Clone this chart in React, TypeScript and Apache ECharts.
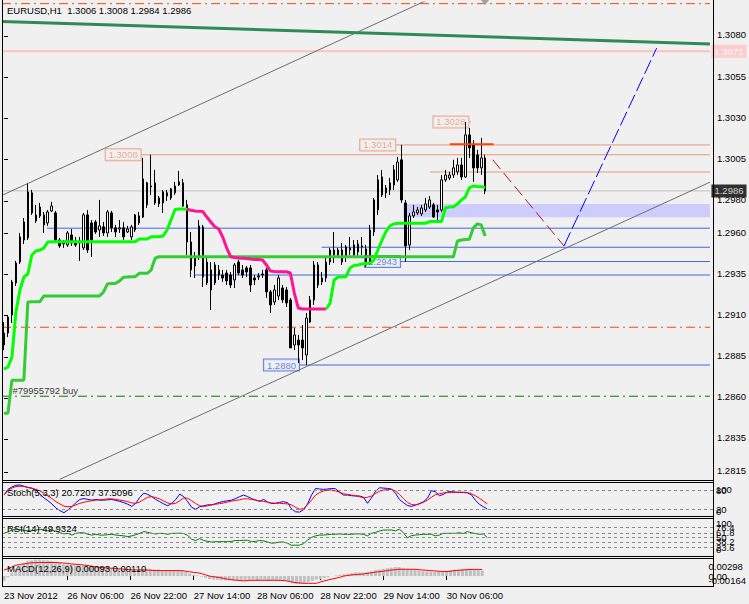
import React, { useEffect, useRef } from 'react';
import * as echarts from 'echarts';

const FONT = '"Liberation Sans", Arial, sans-serif';
const FS = 9.5;

const slotCount = 178;
const labelStep = 16;
const timeLabels = ['23 Nov 2012', '26 Nov 06:00', '26 Nov 22:00', '27 Nov 14:00', '28 Nov 06:00', '28 Nov 22:00', '29 Nov 14:00', '30 Nov 06:00'];
const priceTicks = [1.3080, 1.3055, 1.3030, 1.3005, 1.2980, 1.2960, 1.2935, 1.2910, 1.2885, 1.2860, 1.2835, 1.2815];
const stochRange = [0, 100];
const stochLevels = [20, 80];
const stochTickValues = [100, 80, 20, 0];
const rsiRange = [0, 100];
const rsiLevels = [23.6, 38.2, 50, 61.8, 76.4];
const rsiTickValues = [100, 76.4, 61.8, 50, 38.2, 23.6, 0];
const macdRange = [-0.00164, 0.00298];
const macdTickValues = [0.00298, 0, -0.00164];

const chartTitle = 'EURUSD,H1  1.3006 1.3008 1.2984 1.2986';
const stochTitle = 'Stoch(5,3,3) 20.7207 37.5096';
const rsiTitle = 'RSI(14) 49.9324';
const macdTitle = 'MACD(12,26,9) 0.00093 0.00110';

// [open, close, low, high]
const candles = [
  [1.28922, 1.28995, 1.28891, 1.29062], [1.28995, 1.29092, 1.28971, 1.29105], [1.29105, 1.29306, 1.29056, 1.29318],
  [1.29300, 1.29421, 1.29281, 1.29434], [1.29427, 1.29580, 1.29415, 1.29604], [1.29561, 1.29671, 1.29537, 1.29695],
  [1.29574, 1.29854, 1.29561, 1.29909], [1.29848, 1.29726, 1.29714, 1.29866], [1.29714, 1.29677, 1.29665, 1.29775],
  [1.29708, 1.29762, 1.29695, 1.29787], [1.29714, 1.29653, 1.29604, 1.29732], [1.29665, 1.29732, 1.29647, 1.29744],
  [1.29738, 1.29768, 1.29732, 1.29793], [1.29726, 1.29561, 1.29543, 1.29738], [1.29561, 1.29525, 1.29513, 1.29574],
  [1.29537, 1.29543, 1.29513, 1.29561], [1.29531, 1.29604, 1.29519, 1.29616], [1.29592, 1.29543, 1.29525, 1.29628],
  [1.29555, 1.29531, 1.29519, 1.29580], [1.29543, 1.29555, 1.29434, 1.29580], [1.29513, 1.29714, 1.29500, 1.29726],
  [1.29714, 1.29500, 1.29482, 1.29744], [1.29665, 1.29561, 1.29458, 1.29683], [1.29671, 1.29610, 1.29598, 1.29683],
  [1.29622, 1.29647, 1.29580, 1.29805], [1.29641, 1.29604, 1.29586, 1.29671], [1.29604, 1.29732, 1.29580, 1.29744],
  [1.29726, 1.29635, 1.29610, 1.29738], [1.29635, 1.29610, 1.29580, 1.29653], [1.29628, 1.29635, 1.29604, 1.29683],
  [1.29635, 1.29580, 1.29561, 1.29671], [1.29610, 1.29628, 1.29604, 1.29647], [1.29580, 1.29641, 1.29561, 1.29653],
  [1.29622, 1.29714, 1.29610, 1.29720], [1.29665, 1.29708, 1.29653, 1.29732], [1.29701, 1.29933, 1.29695, 1.30061],
  [1.29909, 1.29775, 1.29756, 1.29915], [1.29890, 1.29884, 1.29835, 1.30080], [1.29909, 1.29787, 1.29775, 1.29988],
  [1.29781, 1.29817, 1.29762, 1.29829], [1.29787, 1.29854, 1.29726, 1.29866], [1.29848, 1.29829, 1.29799, 1.29866],
  [1.29817, 1.29872, 1.29805, 1.29878], [1.29848, 1.29890, 1.29835, 1.29915], [1.29896, 1.29915, 1.29890, 1.29982],
  [1.29909, 1.29768, 1.29762, 1.29933], [1.29775, 1.29549, 1.29470, 1.29805], [1.29549, 1.29379, 1.29336, 1.29610],
  [1.29452, 1.29403, 1.29330, 1.29488], [1.29458, 1.29647, 1.29440, 1.29683], [1.29641, 1.29336, 1.29275, 1.29653],
  [1.29427, 1.29300, 1.29287, 1.29464], [1.29379, 1.29257, 1.29135, 1.29427], [1.29300, 1.29409, 1.29287, 1.29427],
  [1.29379, 1.29348, 1.29318, 1.29409], [1.29348, 1.29330, 1.29306, 1.29379], [1.29360, 1.29312, 1.29287, 1.29379],
  [1.29348, 1.29287, 1.29269, 1.29366], [1.29318, 1.29409, 1.29269, 1.29421], [1.29427, 1.29360, 1.29348, 1.29440],
  [1.29379, 1.29348, 1.29330, 1.29409], [1.29391, 1.29366, 1.29336, 1.29403], [1.29391, 1.29287, 1.29245, 1.29409],
  [1.29330, 1.29318, 1.29287, 1.29348], [1.29342, 1.29336, 1.29318, 1.29360], [1.29354, 1.29348, 1.29330, 1.29379],
  [1.29379, 1.29245, 1.29208, 1.29391], [1.29245, 1.29166, 1.29117, 1.29257], [1.29184, 1.29257, 1.29166, 1.29287],
  [1.29220, 1.29330, 1.29196, 1.29348], [1.29269, 1.29196, 1.29178, 1.29287], [1.29257, 1.29178, 1.29153, 1.29275],
  [1.29196, 1.28904, 1.28904, 1.29208], [1.28922, 1.28983, 1.28891, 1.29025], [1.28952, 1.28922, 1.28812, 1.28983],
  [1.28952, 1.28904, 1.28830, 1.29044], [1.28861, 1.29086, 1.28800, 1.29117], [1.29062, 1.29196, 1.29056, 1.29220],
  [1.29196, 1.29409, 1.29166, 1.29434], [1.29409, 1.29287, 1.29269, 1.29427], [1.29330, 1.29306, 1.29287, 1.29366],
  [1.29330, 1.29427, 1.29306, 1.29452], [1.29427, 1.29500, 1.29409, 1.29513], [1.29470, 1.29500, 1.29421, 1.29610],
  [1.29500, 1.29470, 1.29452, 1.29513], [1.29500, 1.29427, 1.29409, 1.29543], [1.29458, 1.29519, 1.29427, 1.29531],
  [1.29513, 1.29500, 1.29470, 1.29580], [1.29531, 1.29470, 1.29452, 1.29561], [1.29488, 1.29537, 1.29464, 1.29561],
  [1.29519, 1.29525, 1.29470, 1.29580], [1.29507, 1.29409, 1.29397, 1.29531], [1.29427, 1.29622, 1.29409, 1.29653],
  [1.29610, 1.29805, 1.29586, 1.29817], [1.29744, 1.29927, 1.29714, 1.29957], [1.29835, 1.29945, 1.29823, 1.29988],
  [1.29878, 1.29848, 1.29817, 1.29896], [1.29866, 1.29909, 1.29835, 1.29939], [1.29896, 1.29988, 1.29866, 1.30018],
  [1.29927, 1.30036, 1.29915, 1.30067], [1.30049, 1.29805, 1.29787, 1.30140], [1.29787, 1.29525, 1.29430, 1.29805],
  [1.29531, 1.29708, 1.29500, 1.29726], [1.29708, 1.29732, 1.29695, 1.29775], [1.29726, 1.29744, 1.29714, 1.29762],
  [1.29720, 1.29756, 1.29708, 1.29775], [1.29744, 1.29781, 1.29732, 1.29817], [1.29762, 1.29805, 1.29750, 1.29829],
  [1.29775, 1.29701, 1.29695, 1.29787], [1.29744, 1.29732, 1.29683, 1.29775], [1.29744, 1.29927, 1.29732, 1.29957],
  [1.29927, 1.29957, 1.29915, 1.29988], [1.29939, 1.29957, 1.29927, 1.29976], [1.29957, 1.30000, 1.29939, 1.30049],
  [1.29976, 1.30018, 1.29957, 1.30061], [1.30018, 1.29945, 1.29927, 1.30061], [1.29945, 1.30201, 1.29939, 1.30280],
  [1.30201, 1.30122, 1.30061, 1.30243], [1.30140, 1.30000, 1.29915, 1.30170], [1.30079, 1.30000, 1.29969, 1.30110],
  [1.30000, 1.30061, 1.29957, 1.30183], [1.30060, 1.29860, 1.29840, 1.30080],
];

// fast trailing stop (lime while rising, pink while falling)
const trailFast = [
  1.28775, 1.28788, 1.28849, 1.29123, 1.29257, 1.29336, 1.29354, 1.29470, 1.29494, 1.29500,
  1.29512, 1.29549, 1.29551, 1.29551, 1.29551, 1.29551, 1.29551, 1.29551, 1.29551, 1.29551,
  1.29551, 1.29551, 1.29551, 1.29551, 1.29551, 1.29551, 1.29551, 1.29551, 1.29551, 1.29551,
  1.29551, 1.29551, 1.29551, 1.29551, 1.29567, 1.29567, 1.29567, 1.29581, 1.29581, 1.29581,
  1.29586, 1.29622, 1.29683, 1.29747, 1.29750, 1.29750, 1.29748, 1.29742, 1.29738, 1.29736,
  1.29734, 1.29701, 1.29671, 1.29642, 1.29628, 1.29579, 1.29512, 1.29459, 1.29455, 1.29452,
  1.29450, 1.29448, 1.29445, 1.29443, 1.29442, 1.29439, 1.29409, 1.29372, 1.29369, 1.29368,
  1.29368, 1.29368, 1.29360, 1.29238, 1.29147, 1.29141, 1.29141, 1.29141, 1.29141, 1.29141,
  1.29141, 1.29141, 1.29177, 1.29318, 1.29336, 1.29336, 1.29338, 1.29391, 1.29406, 1.29409,
  1.29415, 1.29418, 1.29419, 1.29439, 1.29500, 1.29558, 1.29610, 1.29646, 1.29659, 1.29663,
  1.29663, 1.29663, 1.29663, 1.29663, 1.29663, 1.29663, 1.29663, 1.29673, 1.29673, 1.29673,
  1.29673, 1.29756, 1.29762, 1.29764, 1.29780, 1.29805, 1.29823, 1.29878, 1.29890, 1.29887,
  1.29886, 1.29881,
];
const trailFastSegments = [
  { from: 0, to: 46, rising: true },
  { from: 46, to: 81, rising: false },
  { from: 81, to: 121, rising: true },
];

// slow trailing stop
const trailSlow = [
  1.28506, 1.28507, 1.28708, 1.28708, 1.28708, 1.28708, 1.29184, 1.29185, 1.29185, 1.29185,
  1.29220, 1.29220, 1.29220, 1.29220, 1.29220, 1.29220, 1.29220, 1.29220, 1.29220, 1.29220,
  1.29220, 1.29220, 1.29220, 1.29220, 1.29220, 1.29244, 1.29293, 1.29297, 1.29297, 1.29311,
  1.29334, 1.29336, 1.29338, 1.29338, 1.29358, 1.29358, 1.29358, 1.29378, 1.29450, 1.29459,
  1.29459, 1.29459, 1.29459, 1.29459, 1.29459, 1.29459, 1.29459, 1.29459, 1.29459, 1.29459,
  1.29459, 1.29459, 1.29459, 1.29459, 1.29459, 1.29459, 1.29459, 1.29459, 1.29459, 1.29459,
  1.29459, 1.29459, 1.29459, 1.29459, 1.29459, 1.29459, 1.29459, 1.29459, 1.29459, 1.29459,
  1.29459, 1.29459, 1.29459, 1.29459, 1.29459, 1.29459, 1.29459, 1.29459, 1.29459, 1.29459,
  1.29459, 1.29459, 1.29459, 1.29459, 1.29459, 1.29459, 1.29459, 1.29459, 1.29459, 1.29459,
  1.29459, 1.29459, 1.29459, 1.29459, 1.29459, 1.29459, 1.29459, 1.29459, 1.29459, 1.29459,
  1.29459, 1.29459, 1.29459, 1.29459, 1.29459, 1.29459, 1.29459, 1.29459, 1.29459, 1.29459,
  1.29459, 1.29459, 1.29459, 1.29459, 1.29555, 1.29561, 1.29564, 1.29565, 1.29634, 1.29659,
  1.29653, 1.29586,
];

const stochMain = [
  65, 83, 91, 96, 97, 93, 89, 87, 81, 68,
  56, 47, 37, 24, 16, 9, 18, 28, 41, 51,
  54, 51, 49, 51, 49, 49, 50, 51, 48, 45,
  41, 36, 29, 39, 58, 71, 67, 60, 51, 44,
  37, 31, 39, 51, 68, 60, 44, 26, 20, 28,
  31, 34, 34, 38, 42, 45, 47, 49, 54, 60,
  65, 60, 54, 49, 45, 51, 43, 38, 39, 42,
  44, 41, 21, 12, 11, 19, 37, 65, 86, 84,
  83, 84, 86, 85, 74, 65, 65, 63, 62, 62,
  58, 39, 56, 76, 88, 87, 86, 84, 71, 51,
  41, 32, 29, 33, 38, 44, 55, 79, 75, 63,
  67, 75, 76, 74, 73, 73, 72, 66, 49, 36,
  28, 20.7,
];
const stochSignal = [
  65, 79, 87, 92, 93, 92, 89, 86, 83, 78,
  70, 62, 54, 44, 37, 30, 28, 29, 34, 39,
  42, 45, 47, 49, 50, 51, 53, 53, 51, 49,
  47, 44, 40, 39, 43, 51, 58, 60, 57, 53,
  46, 40, 37, 39, 47, 56, 55, 47, 38, 31,
  29, 31, 34, 36, 38, 40, 43, 46, 48, 50,
  53, 53, 51, 49, 47, 45, 42, 40, 39, 39,
  38, 37, 34, 26, 20, 22, 34, 49, 65, 73,
  78, 81, 81, 78, 74, 69, 67, 65, 63, 60,
  56, 58, 62, 70, 77, 81, 82, 83, 78, 67,
  54, 42, 35, 34, 37, 42, 49, 58, 66, 69,
  72, 73, 73, 74, 74, 74, 73, 69, 63, 55,
  46, 37.5,
];
const rsiValues = [
  60.5, 64, 69, 71, 70, 68, 67, 67, 69, 71,
  69, 67, 69, 66, 62, 59, 60.5, 56, 60.5, 62,
  62, 58, 56, 58, 56, 56, 57, 58, 56, 55,
  54, 52, 54, 57, 60.5, 65, 63, 60.5, 59, 60.5,
  60, 58, 60.5, 60.5, 61, 60, 55, 45, 42, 47,
  42, 40, 38, 39, 39, 39, 39, 40, 42, 42,
  42.5, 42.5, 39, 40, 42, 41, 38, 35, 36, 38,
  38, 35, 29.5, 30, 30, 34, 43, 50, 54, 56,
  56, 57, 58, 58, 59, 58, 58, 58, 59, 59,
  58, 54, 60.5, 63, 66.5, 69, 69, 69, 67, 71,
  62, 49, 54.5, 56, 57, 58, 58, 58, 54, 56,
  60.5, 60.5, 60.5, 60.5, 62, 60, 65, 62, 60, 58,
  59, 49.9,
];
const macdHist = [
  -0.0008, -0.0002, 0.0006, 0.0012, 0.0017, 0.0021, 0.0025, 0.0026, 0.0027, 0.0027,
  0.0026, 0.0026, 0.0025, 0.0024, 0.0022, 0.0020, 0.0019, 0.0018, 0.0018, 0.0017,
  0.0017, 0.0016, 0.0015, 0.0015, 0.0014, 0.0014, 0.0014, 0.0013, 0.0012, 0.0011,
  0.0010, 0.0009, 0.0009, 0.0009, 0.0010, 0.0012, 0.0012, 0.0012, 0.0011, 0.0011,
  0.0010, 0.0010, 0.0010, 0.0010, 0.0010, 0.0009, 0.0007, 0.0004, 0.0002, 0.0001,
  -0.0001, -0.0003, -0.0005, -0.0006, -0.0006, -0.0007, -0.0007, -0.0007, -0.0007, -0.0007,
  -0.0007, -0.0007, -0.0006, -0.0006, -0.0006, -0.0006, -0.0006, -0.0007, -0.0007, -0.0007,
  -0.0007, -0.0008, -0.0010, -0.0012, -0.0013, -0.0013, -0.0012, -0.0010, -0.0008, -0.0006,
  -0.0005, -0.0003, -0.0002, 0.0000, 0.0001, 0.0002, 0.0003, 0.0004, 0.0005, 0.0006,
  0.0006, 0.0006, 0.0007, 0.0008, 0.0010, 0.0011, 0.0012, 0.0013, 0.0014, 0.0015,
  0.0015, 0.0013, 0.0012, 0.0011, 0.0010, 0.0009, 0.0008, 0.0008, 0.0007, 0.0007,
  0.0008, 0.0008, 0.0009, 0.0010, 0.0011, 0.0011, 0.0012, 0.0012, 0.0012, 0.0011,
  0.0010, 0.00093,
];
const macdSignal = [
  0.0010, 0.0012, 0.0015, 0.0018, 0.0019, 0.0020, 0.0021, 0.0022, 0.0022, 0.00224,
  0.00224, 0.00224, 0.00224, 0.00224, 0.0022, 0.00215, 0.0021, 0.0020, 0.00195, 0.0019,
  0.00183, 0.00175, 0.00165, 0.00155, 0.00145, 0.0014, 0.00135, 0.0013, 0.00128, 0.0012,
  0.00115, 0.0011, 0.00105, 0.00101, 0.0010, 0.0010, 0.0010, 0.00095, 0.0009, 0.0009,
  0.0009, 0.0009, 0.0009, 0.0009, 0.0009, 0.0009, 0.0008, 0.0007, 0.0006, 0.00055,
  0.0004, 0.0002, 0.0000, -0.0001, -0.0002, -0.0003, -0.00045, -0.00055, -0.00064, -0.0007,
  -0.00075, -0.0008, -0.0007, -0.0007, -0.0007, -0.0007, -0.0007, -0.0007, -0.0007, -0.0007,
  -0.00072, -0.00075, -0.00085, -0.0010, -0.0011, -0.00115, -0.0012, -0.0012, -0.0012, -0.0012,
  -0.0010, -0.0008, -0.00064, -0.0005, -0.00035, -0.0002, 0.0000, 0.0001, 0.0002, 0.00025,
  0.0003, 0.00035, 0.00045, 0.00055, 0.00065, 0.00073, 0.0008, 0.0009, 0.0010, 0.00105,
  0.00112, 0.00112, 0.00112, 0.00112, 0.00112, 0.00105, 0.0010, 0.00095, 0.0009, 0.00085,
  0.0008, 0.00075, 0.00073, 0.0008, 0.0009, 0.00095, 0.0010, 0.00105, 0.0011, 0.0011,
  0.0011, 0.0011,
];

// drawn objects (bar-index, price)
const priceLevels = [
  { price: 1.3028, from: 116.9, to: 117.4, kind: 'high', label: '1.3028' },
  { price: 1.3014, from: 98.5, to: 177.5, kind: 'high', label: '1.3014' },
  { price: 1.3008, from: 34.5, to: 177.5, kind: 'high', label: '1.3008' },
  { price: 1.29975, from: 107.1, to: 177.5, kind: 'high', label: '' },
  { price: 1.29633, from: 10.8, to: 177.5, kind: 'low', label: '' },
  { price: 1.29517, from: 79.9, to: 177.5, kind: 'low', label: '' },
  { price: 1.2943, from: 99.7, to: 177.5, kind: 'low', label: '1.2943' },
  { price: 1.29348, from: 48.1, to: 177.5, kind: 'low', label: '' },
  { price: 1.2880, from: 74.3, to: 177.5, kind: 'low', label: '1.2880' },
];
const orderLevels = [
  { price: 1.3100, kind: 'stop', label: '' },
  { price: 1.2903, kind: 'stop', label: '' },
  { price: 1.2861, kind: 'open', label: '#79955792 buy' },
];
const alertPrice = 1.3071;
const bidPrice = 1.2986;
const trendLines = [
  { kind: 'channel', pts: [[-0.5, 1.29833], [106, 1.31017]] },
  { kind: 'channel', pts: [[14, 1.28104], [177.5, 1.29913]] },
  { kind: 'slope', pts: [[-0.5, 1.30892], [177.5, 1.30755]] },
  { kind: 'forecastDown', pts: [[122.9, 1.30049], [140.8, 1.29525]] },
  { kind: 'forecastUp', pts: [[140.8, 1.29525], [164.1, 1.30729]] },
  { kind: 'pivot', pts: [[112.1, 1.30144], [123.1, 1.30144]] },
];
const zoneBox = { from: 100.4, to: 177.5, top: 1.29781, bottom: 1.29700 };

const STYLE: any = {
  high: '#e9967a',
  low: '#4169e1',
  stop: '#ff4500',
  open: '#008000',
  channel: { color: '#6e6e6e', width: 1, type: 'solid' },
  slope: { color: '#2e8b57', width: 3, type: 'solid' },
  forecastDown: { color: '#b01818', width: 1, type: [12, 5] },
  forecastUp: { color: '#0000ff', width: 1, type: [15, 4] },
  pivot: { color: '#ff4500', width: 2, type: 'solid' },
};

function buildOption() {
  const categories = Array.from({ length: slotCount }, (_, i) => String(i));
  const X_MIN = -0.5;
  const X_MAX = slotCount - 0.5;
  const showLabelAt = (i: number) => i % labelStep === 0 && i / labelStep < timeLabels.length;
  const txt = { fontSize: FS, fontFamily: FONT, color: '#000' };

  const hiddenCat = (g: number) => ({ type: 'category', gridIndex: g, data: categories, show: false, boundaryGap: true });

  const xAxis: any[] = [
    hiddenCat(0),
    { type: 'value', gridIndex: 0, min: X_MIN, max: X_MAX, show: false },
    hiddenCat(1),
    hiddenCat(2),
    {
      type: 'category', gridIndex: 3, data: categories, boundaryGap: true,
      axisLine: { show: false }, splitLine: { show: false },
      axisTick: { show: true, alignWithLabel: true, interval: (i: number) => showLabelAt(i), length: 4, lineStyle: { color: '#000' } },
      axisLabel: {
        interval: (i: number) => showLabelAt(i),
        formatter: (_v: string, i: number) => timeLabels[i / labelStep] ?? '',
        align: 'left', margin: 4, ...txt,
      },
    },
  ];

  // Each sub-window label gets its own right-hand axis (all on the same spot),
  // so the terminal's crowded, overlapping scale texts are all kept.
  const labelAxis = (grid: number, range: number[], value: number, text: string) => {
    const pad = value === range[1] ? [grid === 3 ? 16 : 10, 0, 0, 0]
      : value === range[0] ? [0, 0, grid === 1 ? 9 : grid === 2 ? 14 : 12, 0]
        : [0, 0, 0, 0];
    return {
      type: 'value', gridIndex: grid, position: 'right', min: range[0], max: range[1],
      axisLine: { show: false }, splitLine: { show: false }, axisTick: { show: false },
      axisLabel: {
        customValues: [value], margin: 3, ...txt, showMinLabel: true, showMaxLabel: true,
        formatter: () => `{m|${text}}`,
        rich: { m: { ...txt, padding: pad } },
      },
    };
  };
  const panels = [
    { grid: 1, range: stochRange, values: stochTickValues, fmt: (v: number) => String(v) },
    { grid: 2, range: rsiRange, values: rsiTickValues, fmt: (v: number) => String(v) },
    { grid: 3, range: macdRange, values: macdTickValues, fmt: (v: number) => (v === 0 ? '0.00' : v.toFixed(5)) },
  ];

  const yAxis: any[] = [
    {
      type: 'value', gridIndex: 0, position: 'right', min: 1.2810, max: 1.3101,
      axisLine: { show: false }, splitLine: { show: false },
      axisTick: { show: true, customValues: priceTicks, length: 4, lineStyle: { color: '#000' } },
      axisLabel: {
        customValues: priceTicks, margin: 7, ...txt, showMinLabel: true, showMaxLabel: true,
        formatter: (v: number) => `{a|${v.toFixed(4)}}`,
        rich: { a: { ...txt, padding: [0, 0, 3, 0] } },
      },
    },
  ];
  // primary axes (index 1..3) carry the series
  panels.forEach((p) => yAxis.push(labelAxis(p.grid, p.range, p.values[0], p.fmt(p.values[0]))));
  panels.forEach((p) => p.values.slice(1).forEach((v) => yAxis.push(labelAxis(p.grid, p.range, v, p.fmt(v)))));

  const seg = (pts: any[], lineStyle: any, z: number) => ({
    type: 'line', xAxisIndex: 1, yAxisIndex: 0, data: pts, symbol: 'none', silent: true, z, clip: true, lineStyle,
  });
  const textMark = (x: number, price: number, label: any, z = 9) => ({
    type: 'scatter', xAxisIndex: 1, yAxisIndex: 0, data: [[x, price]], symbolSize: 1, silent: true, z,
    itemStyle: { color: 'rgba(0,0,0,0)' }, clip: false, label: { show: true, fontSize: FS, fontFamily: FONT, ...label },
  });

  const series: any[] = [];

  series.push({
    type: 'line', xAxisIndex: 1, yAxisIndex: 0, data: [[zoneBox.from, zoneBox.top]], symbol: 'none', silent: true, z: 1,
    lineStyle: { opacity: 0 },
    markArea: { silent: true, itemStyle: { color: '#ccccff', opacity: 1 }, data: [[{ coord: [zoneBox.from, zoneBox.top] }, { coord: [zoneBox.to, zoneBox.bottom] }]] },
  });

  orderLevels.forEach((l) => {
    series.push(seg([[X_MIN, l.price], [X_MAX, l.price]], { color: STYLE[l.kind], width: 1, type: [9, 4, 2, 4] }, 2));
    if (l.label) series.push(textMark(2, l.price, { position: 'right', distance: 0, offset: [0, -6], color: '#000', formatter: l.label }));
  });
  series.push(seg([[X_MIN, alertPrice], [X_MAX, alertPrice]], { color: '#ffc0c0', width: 2 }, 2));
  series.push(seg([[X_MIN, bidPrice], [X_MAX, bidPrice]], { color: '#c0c0c0', width: 1 }, 2));

  priceLevels.forEach((l) => {
    series.push(seg([[l.from, l.price], [l.to, l.price]], { color: STYLE[l.kind], width: 1 }, 2));
  });

  // price labels sit beneath the indicator lines, as in the terminal
  priceLevels.filter((l) => l.label).forEach((l) => {
    series.push(textMark(l.from, l.price, {
      position: 'left', distance: 0, formatter: l.label, color: STYLE[l.kind], borderColor: STYLE[l.kind], borderWidth: 1,
      padding: [1, 3, 0, 3], backgroundColor: '#f0f0f0',
    }, 2));
  });

  series.push({
    type: 'candlestick', xAxisIndex: 0, yAxisIndex: 0, data: candles, barWidth: 2, silent: true, z: 3,
    itemStyle: { color: '#ffffff', color0: '#000000', borderColor: '#000000', borderColor0: '#000000', borderColorDoji: '#000000', borderWidth: 1 },
  });

  trendLines.forEach((t) => series.push(seg(t.pts, STYLE[t.kind], 4)));

  series.push({
    type: 'line', xAxisIndex: 0, yAxisIndex: 0, data: trailSlow, symbol: 'none', silent: true, z: 5,
    lineStyle: { color: '#32cd32', width: 3 },
  });
  trailFastSegments.forEach((s) => {
    series.push({
      type: 'line', xAxisIndex: 0, yAxisIndex: 0, symbol: 'none', silent: true, z: 6,
      data: trailFast.map((v, i) => (i >= s.from && i <= s.to ? v : '-')),
      lineStyle: { color: s.rising ? '#00ff00' : '#ff1493', width: 3 },
    });
  });

  series.push(textMark(X_MAX, alertPrice, { position: 'right', distance: 1, formatter: alertPrice.toFixed(4), color: '#ffffff', backgroundColor: '#ffc4c4', padding: [2, 3, 1, 3] }));
  series.push(textMark(X_MAX, bidPrice, { position: 'right', distance: 1, formatter: bidPrice.toFixed(4), color: '#ffffff', backgroundColor: '#000000', padding: [2, 3, 1, 3] }));

  const levelMark = (levels: number[]) => ({
    silent: true, symbol: ['none', 'none'], label: { show: false },
    lineStyle: { color: '#8a8a8a', type: [3, 3], width: 1 },
    data: levels.map((v) => ({ yAxis: v })),
  });

  series.push({ type: 'line', xAxisIndex: 2, yAxisIndex: 1, data: stochMain, symbol: 'none', silent: true, z: 4, lineStyle: { color: '#0000ff', width: 1 }, markLine: levelMark(stochLevels) });
  series.push({ type: 'line', xAxisIndex: 2, yAxisIndex: 1, data: stochSignal, symbol: 'none', silent: true, z: 5, lineStyle: { color: '#ff0000', width: 1 } });
  series.push({ type: 'line', xAxisIndex: 3, yAxisIndex: 2, data: rsiValues, symbol: 'none', silent: true, z: 4, lineStyle: { color: '#008000', width: 1 }, markLine: levelMark(rsiLevels) });
  series.push({ type: 'bar', xAxisIndex: 4, yAxisIndex: 3, data: macdHist, barWidth: 3, silent: true, z: 3, itemStyle: { color: '#c0c0c0' } });
  series.push({ type: 'line', xAxisIndex: 4, yAxisIndex: 3, data: macdSignal, symbol: 'none', silent: true, z: 4, lineStyle: { color: '#ff0000', width: 1 } });

  const titleStyle = { fontSize: FS, fontWeight: 'normal', color: '#000', fontFamily: FONT };
  const frameY = [480.5, 482.5, 516.5, 518.5, 556.5, 558.5, 586.5];
  const frame = { stroke: '#000', lineWidth: 1 };

  return {
    animation: false,
    backgroundColor: '#f0f0f0',
    textStyle: { fontFamily: FONT },
    title: [
      { text: chartTitle, left: 7, top: 5, padding: 0, textStyle: titleStyle },
      { text: stochTitle, left: 7, top: 487, padding: 0, textStyle: titleStyle },
      { text: rsiTitle, left: 7, top: 523, padding: 0, textStyle: titleStyle },
      { text: macdTitle, left: 7, top: 563.5, padding: 0, textStyle: titleStyle },
    ],
    grid: [
      { left: 2, top: 2, width: 711, height: 478 },
      { left: 2, top: 484, width: 711, height: 31.6 },
      { left: 2, top: 518, width: 711, height: 38.8 },
      { left: 2, top: 558, width: 711, height: 28 },
    ],
    xAxis,
    yAxis,
    series,
    graphic: [
      ...frameY.map((y) => ({ type: 'line', silent: true, z: 100, shape: { x1: 2, y1: y, x2: 714, y2: y }, style: frame })),
      { type: 'line', silent: true, z: 100, shape: { x1: 2.5, y1: 0, x2: 2.5, y2: 587 }, style: frame },
      { type: 'line', silent: true, z: 100, shape: { x1: 713.5, y1: 0, x2: 713.5, y2: 587 }, style: frame },
      { type: 'polygon', silent: true, z: 100, shape: { points: [[481, 0], [489, 0], [485, 5]] }, style: { fill: '#a0a0a0' } },
    ],
  };
}

export default function App() {
  const ref = useRef<HTMLDivElement>(null);
  useEffect(() => {
    if (!ref.current) return;
    const chart = echarts.init(ref.current, null, { renderer: 'svg' });
    chart.setOption(buildOption() as any);
    return () => chart.dispose();
  }, []);
  return <div ref={ref} style={{ position: 'absolute', left: 0, top: 0, width: 749, height: 604, background: '#f0f0f0' }} />;
}
